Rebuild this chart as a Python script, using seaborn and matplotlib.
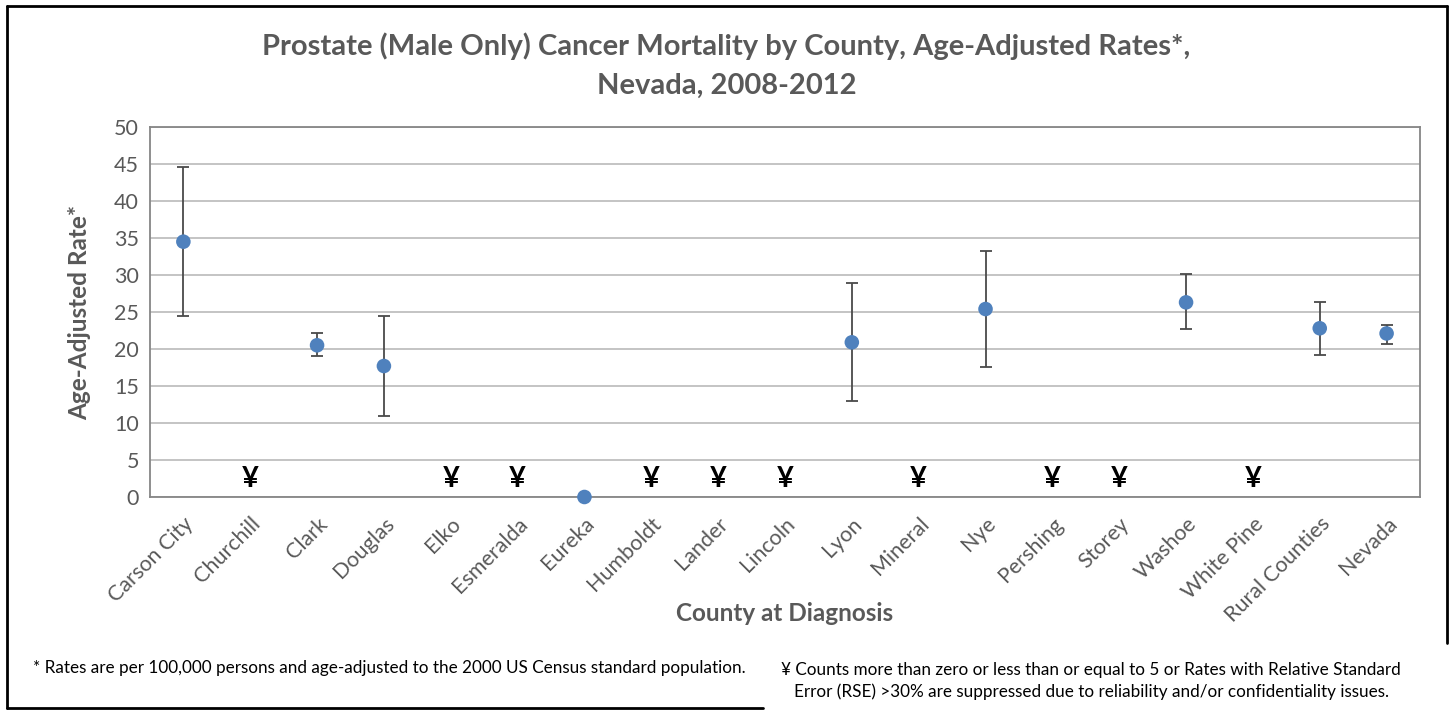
import numpy as np
import pandas as pd
import seaborn as sns
import matplotlib.pyplot as plt
from matplotlib.lines import Line2D

## chart data (NaN = suppressed, shown as ¥)
counties = ['Carson City', 'Churchill', 'Clark', 'Douglas', 'Elko', 'Esmeralda', 'Eureka',
            'Humboldt', 'Lander', 'Lincoln', 'Lyon', 'Mineral', 'Nye', 'Pershing', 'Storey',
            'Washoe', 'White Pine', 'Rural Counties', 'Nevada']
rate = [34.5, np.nan, 20.5, 17.7, np.nan, np.nan, 0.0, np.nan, np.nan, np.nan,
        20.9, np.nan, 25.4, np.nan, np.nan, 26.3, np.nan, 22.8, 22.1]
lower = [24.4, np.nan, 19.0, 11.0, np.nan, np.nan, 0.0, np.nan, np.nan, np.nan,
         13.0, np.nan, 17.6, np.nan, np.nan, 22.7, np.nan, 19.2, 20.7]
upper = [44.6, np.nan, 22.1, 24.4, np.nan, np.nan, 0.0, np.nan, np.nan, np.nan,
         28.9, np.nan, 33.3, np.nan, np.nan, 30.1, np.nan, 26.4, 23.3]

df = pd.DataFrame({'county': counties, 'rate': rate, 'lower': lower, 'upper': upper})
df['pos'] = np.arange(len(df))

sns.set_style('white')
plt.rcParams['font.family'] = ['Lato', 'DejaVu Sans']

gray = '#595959'
fig = plt.figure(figsize=(14.53, 7.11), dpi=100)
ax = fig.add_axes([0.1032, 0.301, 0.8741, 0.5204])

# error bars (only where there is an interval)
ci = df.dropna(subset=['rate'])
ci = ci[ci['upper'] > ci['lower']]
ax.errorbar(ci['pos'], ci['rate'],
            yerr=[ci['rate'] - ci['lower'], ci['upper'] - ci['rate']],
            fmt='none', ecolor='#4a4a4a', elinewidth=1.3, capsize=4.5, capthick=1.3, zorder=2)

sns.scatterplot(data=df.dropna(subset=['rate']), x='pos', y='rate', ax=ax,
                color='#4F81BD', s=110, edgecolor='none', zorder=3, clip_on=False)

# suppressed markers
for p in df.loc[df['rate'].isna(), 'pos']:
    ax.text(p, 2.4, '¥', ha='center', va='center', fontsize=21, fontweight='bold', color='black')

ax.set_xlim(-0.5, len(counties) - 0.5)
ax.set_ylim(0, 50)
ax.set_yticks(range(0, 51, 5))
ax.set_xticks(df['pos'])
ax.set_xticklabels(counties, rotation=45, ha='right', rotation_mode='anchor')
ax.set_xticks(np.arange(-0.5, len(counties), 1), minor=True)
ax.tick_params(axis='x', which='major', length=0, pad=12, labelsize=15.5, labelcolor=gray)
ax.tick_params(axis='x', which='minor', length=6, width=1.2, color='#868686', direction='out')
ax.tick_params(axis='y', length=0, pad=8, labelsize=15.5, labelcolor=gray)

ax.grid(axis='y', color='#BFBFBF', linewidth=1.3)
ax.set_axisbelow(True)
for s in ax.spines.values():
    s.set_color('#868686')
    s.set_linewidth(1.3)

ax.set_xlabel('County at Diagnosis', fontsize=17.5, fontweight='bold', color=gray)
ax.set_ylabel('Age-Adjusted Rate*', fontsize=17.5, fontweight='bold', color=gray)
ax.xaxis.set_label_coords(0.5, -0.285)
ax.yaxis.set_label_coords(-0.046, 0.5)

fig.text(0.5, 0.935, 'Prostate (Male Only) Cancer Mortality by County, Age-Adjusted Rates*,',
         ha='center', va='center', fontsize=21, fontweight='bold', color=gray)
fig.text(0.5, 0.879, 'Nevada, 2008-2012',
         ha='center', va='center', fontsize=21, fontweight='bold', color=gray)

# footnotes
fig.text(33 / 1453, 1 - 668 / 711,
         '* Rates are per 100,000 persons and age-adjusted to the 2000 US Census standard population.',
         ha='left', va='center', fontsize=12.3, color='black')
fig.text(1091 / 1453, 1 - 681 / 711,
         '¥ Counts more than zero or less than or equal to 5 or Rates with Relative Standard\n'
         'Error (RSE) >30% are suppressed due to reliability and/or confidentiality issues.',
         ha='center', va='center', fontsize=12.3, color='black', linespacing=1.45)

# outer frame (open at bottom right)
W, H = 1453, 711
frame = [((7, 7), (6, 708)), ((7, 1447), (6, 6)), ((1447, 1447), (6, 643)), ((7, 763), (708, 708))]
for xs, ys in frame:
    fig.add_artist(Line2D([x / W for x in xs], [1 - y / H for y in ys],
                          color='black', linewidth=2, transform=fig.transFigure))

plt.savefig('out.png', dpi=100)
plt.close()
